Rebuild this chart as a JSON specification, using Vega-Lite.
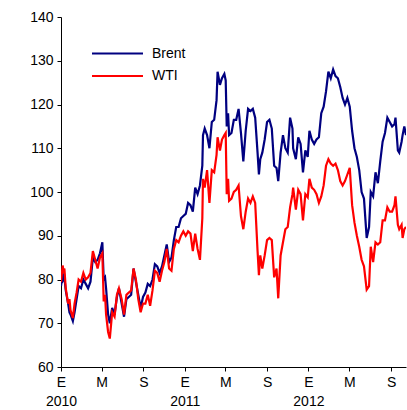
{
  "$schema": "https://vega.github.io/schema/vega-lite/v6.json",
  "width": 345,
  "height": 350,
  "autosize": {"type": "none"},
  "padding": {"left": 61, "top": 17, "right": 1, "bottom": 43},
  "background": "white",
  "config": {
    "view": {"stroke": null},
    "font": "Liberation Sans",
    "axis": {"grid": false, "domainColor": "black", "tickColor": "black", "labelColor": "black", "labelFont": "Liberation Sans", "labelFontSize": 14, "tickSize": 4, "domainWidth": 1, "tickWidth": 1}
  },
  "data": {
    "values": [
      {"d":"2010-01-01","Brent":78.5,"WTI":79.4},
      {"d":"2010-01-06","Brent":81.5,"WTI":83.2},
      {"d":"2010-01-08","Brent":80.0,"WTI":82.0},
      {"d":"2010-01-11","Brent":80.5,"WTI":82.5},
      {"d":"2010-01-15","Brent":77.5,"WTI":78.0},
      {"d":"2010-01-22","Brent":74.5,"WTI":74.5},
      {"d":"2010-01-26","Brent":72.5,"WTI":75.5},
      {"d":"2010-01-29","Brent":72.0,"WTI":73.0},
      {"d":"2010-02-05","Brent":70.5,"WTI":71.2},
      {"d":"2010-02-10","Brent":72.5,"WTI":74.5},
      {"d":"2010-02-16","Brent":75.5,"WTI":77.0},
      {"d":"2010-02-22","Brent":78.5,"WTI":80.0},
      {"d":"2010-03-01","Brent":78.0,"WTI":79.5},
      {"d":"2010-03-08","Brent":80.0,"WTI":81.5},
      {"d":"2010-03-15","Brent":79.0,"WTI":80.0},
      {"d":"2010-03-22","Brent":78.0,"WTI":80.5},
      {"d":"2010-03-29","Brent":79.5,"WTI":81.5},
      {"d":"2010-04-05","Brent":85.0,"WTI":86.5},
      {"d":"2010-04-12","Brent":84.0,"WTI":84.5},
      {"d":"2010-04-19","Brent":84.5,"WTI":82.5},
      {"d":"2010-04-26","Brent":86.0,"WTI":85.0},
      {"d":"2010-05-03","Brent":88.5,"WTI":86.0},
      {"d":"2010-05-07","Brent":80.0,"WTI":75.0},
      {"d":"2010-05-11","Brent":80.5,"WTI":76.5},
      {"d":"2010-05-14","Brent":78.0,"WTI":72.0},
      {"d":"2010-05-20","Brent":72.0,"WTI":68.0},
      {"d":"2010-05-25","Brent":70.0,"WTI":66.5},
      {"d":"2010-06-01","Brent":73.5,"WTI":72.5},
      {"d":"2010-06-08","Brent":72.0,"WTI":71.5},
      {"d":"2010-06-15","Brent":76.0,"WTI":76.5},
      {"d":"2010-06-21","Brent":78.0,"WTI":78.0},
      {"d":"2010-06-29","Brent":74.5,"WTI":75.5},
      {"d":"2010-07-06","Brent":71.5,"WTI":72.0},
      {"d":"2010-07-13","Brent":75.5,"WTI":76.5},
      {"d":"2010-07-20","Brent":76.0,"WTI":77.0},
      {"d":"2010-07-27","Brent":76.5,"WTI":77.5},
      {"d":"2010-08-03","Brent":82.5,"WTI":82.5},
      {"d":"2010-08-10","Brent":79.5,"WTI":80.0},
      {"d":"2010-08-17","Brent":76.5,"WTI":75.5},
      {"d":"2010-08-24","Brent":73.5,"WTI":72.5},
      {"d":"2010-08-31","Brent":76.0,"WTI":74.5},
      {"d":"2010-09-07","Brent":77.0,"WTI":74.5},
      {"d":"2010-09-14","Brent":79.0,"WTI":76.5},
      {"d":"2010-09-21","Brent":78.5,"WTI":74.0},
      {"d":"2010-09-28","Brent":80.0,"WTI":77.5},
      {"d":"2010-10-05","Brent":83.5,"WTI":82.0},
      {"d":"2010-10-12","Brent":83.0,"WTI":81.5},
      {"d":"2010-10-19","Brent":81.5,"WTI":79.5},
      {"d":"2010-10-26","Brent":83.0,"WTI":82.0},
      {"d":"2010-11-02","Brent":85.5,"WTI":84.0},
      {"d":"2010-11-09","Brent":88.0,"WTI":87.0},
      {"d":"2010-11-16","Brent":84.0,"WTI":82.5},
      {"d":"2010-11-23","Brent":85.0,"WTI":82.0},
      {"d":"2010-11-30","Brent":89.0,"WTI":87.0},
      {"d":"2010-12-07","Brent":92.0,"WTI":89.0},
      {"d":"2010-12-14","Brent":92.0,"WTI":88.5},
      {"d":"2010-12-21","Brent":94.0,"WTI":90.0},
      {"d":"2010-12-28","Brent":94.5,"WTI":91.0},
      {"d":"2011-01-04","Brent":95.0,"WTI":90.0},
      {"d":"2011-01-11","Brent":97.5,"WTI":91.0},
      {"d":"2011-01-18","Brent":97.0,"WTI":90.5},
      {"d":"2011-01-25","Brent":95.5,"WTI":86.5},
      {"d":"2011-02-01","Brent":101.0,"WTI":90.5},
      {"d":"2011-02-08","Brent":99.5,"WTI":87.0},
      {"d":"2011-02-15","Brent":101.5,"WTI":84.5},
      {"d":"2011-02-22","Brent":106.0,"WTI":94.0},
      {"d":"2011-02-24","Brent":113.0,"WTI":103.0},
      {"d":"2011-03-01","Brent":114.5,"WTI":101.0},
      {"d":"2011-03-08","Brent":113.0,"WTI":105.0},
      {"d":"2011-03-15","Brent":110.0,"WTI":97.5},
      {"d":"2011-03-22","Brent":116.0,"WTI":105.0},
      {"d":"2011-03-29","Brent":116.5,"WTI":104.5},
      {"d":"2011-04-05","Brent":121.0,"WTI":108.5},
      {"d":"2011-04-08","Brent":127.5,"WTI":112.5},
      {"d":"2011-04-15","Brent":124.5,"WTI":109.5},
      {"d":"2011-04-21","Brent":126.0,"WTI":112.0},
      {"d":"2011-04-28","Brent":127.0,"WTI":113.0},
      {"d":"2011-05-02","Brent":125.5,"WTI":113.5},
      {"d":"2011-05-05","Brent":115.0,"WTI":99.5},
      {"d":"2011-05-09","Brent":118.0,"WTI":103.0},
      {"d":"2011-05-12","Brent":113.0,"WTI":98.0},
      {"d":"2011-05-19","Brent":113.5,"WTI":98.5},
      {"d":"2011-05-26","Brent":116.5,"WTI":100.0},
      {"d":"2011-06-02","Brent":116.5,"WTI":100.5},
      {"d":"2011-06-09","Brent":119.0,"WTI":101.5},
      {"d":"2011-06-16","Brent":113.5,"WTI":94.5},
      {"d":"2011-06-23","Brent":107.0,"WTI":91.5},
      {"d":"2011-06-30","Brent":114.0,"WTI":95.5},
      {"d":"2011-07-07","Brent":119.0,"WTI":98.5},
      {"d":"2011-07-14","Brent":118.5,"WTI":97.5},
      {"d":"2011-07-21","Brent":119.0,"WTI":99.0},
      {"d":"2011-07-28","Brent":117.0,"WTI":97.5},
      {"d":"2011-08-04","Brent":109.0,"WTI":86.5},
      {"d":"2011-08-08","Brent":104.0,"WTI":81.0},
      {"d":"2011-08-12","Brent":107.5,"WTI":85.5},
      {"d":"2011-08-18","Brent":109.0,"WTI":82.5},
      {"d":"2011-08-25","Brent":112.0,"WTI":85.5},
      {"d":"2011-09-01","Brent":116.0,"WTI":89.0},
      {"d":"2011-09-08","Brent":116.5,"WTI":89.5},
      {"d":"2011-09-15","Brent":114.5,"WTI":89.0},
      {"d":"2011-09-22","Brent":106.0,"WTI":80.5},
      {"d":"2011-09-29","Brent":105.5,"WTI":82.5},
      {"d":"2011-10-04","Brent":102.5,"WTI":75.7},
      {"d":"2011-10-11","Brent":109.0,"WTI":85.5},
      {"d":"2011-10-18","Brent":113.0,"WTI":88.5},
      {"d":"2011-10-25","Brent":110.0,"WTI":91.5},
      {"d":"2011-11-01","Brent":109.0,"WTI":92.0},
      {"d":"2011-11-08","Brent":117.0,"WTI":96.5},
      {"d":"2011-11-15","Brent":114.5,"WTI":99.5},
      {"d":"2011-11-17","Brent":110.0,"WTI":101.0},
      {"d":"2011-11-25","Brent":107.5,"WTI":96.0},
      {"d":"2011-12-02","Brent":112.5,"WTI":100.5},
      {"d":"2011-12-09","Brent":111.0,"WTI":99.5},
      {"d":"2011-12-16","Brent":104.5,"WTI":93.5},
      {"d":"2011-12-23","Brent":109.5,"WTI":99.5},
      {"d":"2011-12-30","Brent":108.0,"WTI":98.8},
      {"d":"2012-01-04","Brent":114.0,"WTI":103.0},
      {"d":"2012-01-11","Brent":112.0,"WTI":101.0},
      {"d":"2012-01-18","Brent":111.0,"WTI":100.5},
      {"d":"2012-01-25","Brent":112.0,"WTI":99.5},
      {"d":"2012-02-01","Brent":112.5,"WTI":97.5},
      {"d":"2012-02-08","Brent":118.0,"WTI":99.0},
      {"d":"2012-02-15","Brent":119.5,"WTI":101.5},
      {"d":"2012-02-22","Brent":123.0,"WTI":106.0},
      {"d":"2012-02-29","Brent":127.5,"WTI":107.5},
      {"d":"2012-03-07","Brent":126.0,"WTI":106.5},
      {"d":"2012-03-14","Brent":128.0,"WTI":106.0},
      {"d":"2012-03-21","Brent":126.5,"WTI":106.5},
      {"d":"2012-03-28","Brent":126.0,"WTI":105.0},
      {"d":"2012-04-04","Brent":124.0,"WTI":102.5},
      {"d":"2012-04-11","Brent":121.5,"WTI":101.5},
      {"d":"2012-04-18","Brent":120.0,"WTI":102.5},
      {"d":"2012-04-25","Brent":121.5,"WTI":104.0},
      {"d":"2012-05-02","Brent":119.5,"WTI":105.5},
      {"d":"2012-05-09","Brent":114.0,"WTI":97.0},
      {"d":"2012-05-16","Brent":110.0,"WTI":93.0},
      {"d":"2012-05-23","Brent":108.0,"WTI":90.0},
      {"d":"2012-05-30","Brent":105.0,"WTI":87.5},
      {"d":"2012-06-06","Brent":100.0,"WTI":84.5},
      {"d":"2012-06-13","Brent":98.5,"WTI":83.0},
      {"d":"2012-06-21","Brent":89.5,"WTI":77.7},
      {"d":"2012-06-28","Brent":92.0,"WTI":78.5},
      {"d":"2012-07-03","Brent":100.0,"WTI":87.5},
      {"d":"2012-07-10","Brent":99.0,"WTI":84.0},
      {"d":"2012-07-17","Brent":104.5,"WTI":88.5},
      {"d":"2012-07-24","Brent":102.0,"WTI":88.0},
      {"d":"2012-07-31","Brent":107.0,"WTI":88.5},
      {"d":"2012-08-07","Brent":111.5,"WTI":93.5},
      {"d":"2012-08-14","Brent":113.5,"WTI":93.5},
      {"d":"2012-08-21","Brent":117.0,"WTI":96.5},
      {"d":"2012-08-28","Brent":116.0,"WTI":95.5},
      {"d":"2012-09-04","Brent":115.0,"WTI":95.5},
      {"d":"2012-09-11","Brent":115.5,"WTI":97.0},
      {"d":"2012-09-14","Brent":117.0,"WTI":99.0},
      {"d":"2012-09-21","Brent":109.5,"WTI":92.5},
      {"d":"2012-09-25","Brent":109.0,"WTI":91.5},
      {"d":"2012-10-02","Brent":111.5,"WTI":92.5},
      {"d":"2012-10-05","Brent":113.0,"WTI":89.5},
      {"d":"2012-10-10","Brent":115.0,"WTI":91.5},
      {"d":"2012-10-15","Brent":113.0,"WTI":92.0}
    ],
    "format": {"parse": {"d": "date:'%Y-%m-%d'"}}
  },
  "transform": [{"fold": ["Brent", "WTI"], "as": ["serie", "precio"]}],
  "mark": {"type": "line", "strokeWidth": 2.2, "clip": true},
  "encoding": {
    "x": {
      "field": "d", "type": "temporal", "title": null,
      "scale": {"domain": [{"year": 2010, "month": 1, "date": 1}, {"year": 2012, "month": 10, "date": 15}]},
      "axis": {
        "values": [
          {"year": 2010, "month": 1, "date": 1}, {"year": 2010, "month": 5, "date": 1}, {"year": 2010, "month": 9, "date": 1},
          {"year": 2011, "month": 1, "date": 1}, {"year": 2011, "month": 5, "date": 1}, {"year": 2011, "month": 9, "date": 1},
          {"year": 2012, "month": 1, "date": 1}, {"year": 2012, "month": 5, "date": 1}, {"year": 2012, "month": 9, "date": 1}
        ],
        "labelExpr": "month(datum.value) == 0 ? ['E', timeFormat(datum.value, '%Y')] : (month(datum.value) == 4 ? 'M' : 'S')",
        "labelPadding": 4,
        "labelLineHeight": 19,
        "labelFlush": false,
        "labelOverlap": false
      }
    },
    "y": {
      "field": "precio", "type": "quantitative", "title": null,
      "scale": {"domain": [60, 140], "nice": false, "zero": false},
      "axis": {"values": [60, 70, 80, 90, 100, 110, 120, 130, 140], "labelPadding": 4}
    },
    "color": {
      "field": "serie", "type": "nominal",
      "scale": {"domain": ["Brent", "WTI"], "range": ["#000080", "#ff0000"]},
      "legend": {
        "title": null, "orient": "none", "legendX": 45, "legendY": 25, "rowPadding": 3.6,
        "symbolType": "M-2.5,0H2.5", "symbolStrokeWidth": 2, "symbolSize": 416,
        "labelFontSize": 14, "labelFont": "Liberation Sans", "labelColor": "black", "labelOffset": 23
      }
    }
  }
}
